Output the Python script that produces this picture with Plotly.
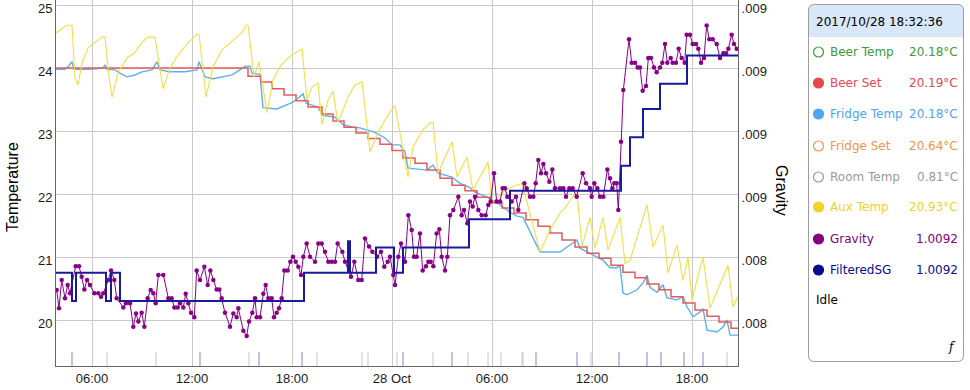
import plotly.graph_objects as go
import pandas as pd

# ---------------- data (hours since 2017-10-27 00:00) ----------------
beer_set_h = [3.84, 15.36, 16.14, 16.80, 17.52, 18.24, 18.96, 19.80, 20.46, 21.12, 21.84, 22.56, 23.28, 24.00,
              24.66, 25.38, 26.10, 26.88, 27.60, 28.38, 29.10, 29.88, 30.60, 31.32, 32.04, 32.76, 33.48, 34.20,
              34.98, 35.70, 36.42, 37.14, 37.86, 38.58, 39.30, 40.02, 40.74, 41.46, 42.18, 42.90, 43.62, 44.34, 44.76]
beer_set_t = [24.00, 23.87, 23.78, 23.67, 23.57, 23.48, 23.38, 23.27, 23.16, 23.06, 22.97, 22.88, 22.79, 22.69,
              22.57, 22.49, 22.38, 22.25, 22.14, 22.05, 21.95, 21.86, 21.78, 21.70, 21.59, 21.49, 21.38, 21.27,
              21.16, 21.06, 20.98, 20.87, 20.76, 20.67, 20.57, 20.48, 20.37, 20.27, 20.16, 20.06, 19.97, 19.87, 19.87]

fridge_h = [3.84, 4.38, 4.56, 4.80, 4.92, 5.88, 6.66, 6.78, 6.90, 7.38, 7.68, 8.10, 8.58, 9.00, 9.60, 9.90, 10.08,
            10.68, 11.58, 12.30, 12.42, 12.78, 13.26, 13.80, 14.40, 14.88, 15.18, 15.48, 15.60, 16.08, 16.26, 17.10,
            17.58, 18.06, 18.36, 18.66, 18.84, 19.26, 19.56, 19.86, 20.58, 21.06, 21.66, 22.08, 22.98, 23.58, 24.00,
            24.48, 24.78, 24.96, 26.10, 26.46, 26.76, 27.60, 28.08, 28.68, 28.98, 29.70, 30.48, 31.08, 31.50, 31.86,
            32.88, 34.08, 34.68, 35.10, 35.28, 35.88, 36.30, 36.66, 37.08, 37.50, 37.68, 37.86, 38.10, 38.70, 39.06,
            39.30, 39.48, 39.90, 40.26, 40.50, 41.10, 41.46, 41.70, 42.06, 42.60, 42.66, 42.90, 43.50, 43.86, 44.10,
            44.28, 44.76]
fridge_t = [23.98, 23.98, 24.02, 24.10, 23.98, 23.98, 24.00, 24.05, 23.98, 23.97, 23.92, 23.86, 23.89, 23.94, 23.97,
            24.10, 23.97, 23.94, 23.94, 23.97, 24.10, 23.86, 23.83, 23.86, 23.89, 23.97, 24.03, 24.03, 23.92, 23.90,
            23.37, 23.35, 23.40, 23.46, 23.52, 23.59, 23.44, 23.41, 23.38, 23.25, 23.22, 23.10, 23.06, 23.05, 22.98,
            22.89, 22.78, 22.78, 22.67, 22.41, 22.38, 22.46, 22.33, 22.27, 22.17, 22.10, 22.03, 21.95, 21.83, 21.71,
            21.65, 21.63, 21.08, 21.08, 21.19, 21.27, 21.14, 21.06, 21.00, 20.95, 20.83, 20.83, 20.87, 20.43, 20.40,
            20.48, 20.59, 20.71, 20.52, 20.44, 20.56, 20.35, 20.32, 20.37, 20.21, 20.05, 20.15, 20.18, 19.84, 19.81,
            19.89, 20.00, 19.76, 19.76]

aux_h = [3.84, 4.08, 4.26, 4.50, 4.80, 4.98, 5.16, 5.40, 5.76, 6.18, 6.60, 6.78, 7.02, 7.20, 7.56, 8.10, 8.58, 9.00,
         9.36, 9.78, 10.26, 10.68, 11.16, 11.76, 12.30, 12.42, 12.84, 13.26, 13.80, 14.46, 15.00, 15.24, 15.36, 15.72,
         16.02, 16.50, 16.86, 17.28, 17.76, 18.18, 18.60, 18.90, 19.20, 19.56, 19.80, 20.16, 20.46, 20.76, 21.36,
         21.78, 22.20, 22.68, 23.16, 23.58, 23.88, 24.18, 24.96, 25.26, 25.86, 26.28, 26.46, 26.76, 27.30, 27.60,
         27.90, 28.20, 28.50, 28.86, 29.28, 29.76, 30.00, 30.78, 31.38, 31.80, 32.88, 33.48, 34.08, 34.38, 34.80,
         35.10, 35.40, 35.88, 36.18, 36.66, 36.96, 37.68, 37.98, 38.28, 39.30, 39.66, 40.26, 40.56, 41.10, 41.46,
         41.76, 42.00, 42.66, 43.08, 44.16, 44.46, 44.76]
aux_t = [24.56, 24.60, 24.63, 24.68, 24.68, 23.84, 23.73, 24.08, 24.32, 24.40, 24.49, 24.49, 23.86, 23.54, 23.92,
         24.16, 24.25, 24.41, 24.49, 24.49, 23.67, 24.00, 24.21, 24.40, 24.54, 24.54, 23.54, 24.02, 24.29, 24.44,
         24.56, 24.68, 24.68, 23.86, 24.10, 23.29, 23.81, 24.02, 24.16, 24.24, 24.30, 23.49, 23.70, 23.76, 23.10,
         23.49, 23.63, 23.13, 23.54, 23.73, 23.78, 22.67, 22.98, 23.17, 23.30, 23.40, 22.27, 22.75, 23.02, 23.13,
         23.14, 22.33, 22.65, 22.83, 22.27, 22.43, 22.59, 22.06, 22.27, 22.51, 21.86, 22.06, 22.13, 22.17, 21.08,
         21.43, 21.70, 21.78, 21.94, 22.03, 21.16, 21.63, 21.14, 21.63, 21.11, 21.63, 20.90, 20.95, 21.83, 21.16,
         21.51, 20.75, 21.19, 20.63, 21.00, 20.32, 21.00, 20.19, 20.87, 20.21, 20.37]

grav_h = [3.88, 4.02, 4.18, 4.38, 4.54, 4.68, 5.02, 5.22, 5.38, 5.54, 5.70, 5.88, 6.14, 6.38, 6.54, 6.68, 6.98, 7.14,
          7.34, 7.48, 7.88, 8.04, 8.28, 8.48, 8.64, 8.78, 8.98, 9.14, 9.34, 9.52, 9.68, 9.82, 9.98, 10.28, 10.58,
          10.78, 10.94, 11.14, 11.28, 11.48, 11.62, 11.78, 11.94, 12.14, 12.28, 12.48, 12.74, 12.94, 13.10, 13.28,
          13.48, 13.64, 13.78, 13.98, 14.28, 14.48, 14.68, 14.78, 15.08, 15.28, 15.42, 15.62, 15.78, 15.88, 16.08,
          16.28, 16.42, 16.58, 16.78, 16.92, 17.08, 17.22, 17.38, 17.54, 17.74, 17.90, 18.06, 18.22, 18.38, 18.54,
          18.68, 18.88, 19.08, 19.38, 19.58, 19.78, 19.98, 20.18, 20.38, 20.58, 20.74, 21.02, 21.18, 21.54, 21.74,
          21.98, 22.18, 22.38, 22.62, 22.82, 23.10, 23.34, 23.54, 23.74, 23.88, 24.08,
          24.18, 24.38, 24.54, 24.78, 24.98, 25.18, 25.32, 25.48, 25.68, 25.84, 26.04, 26.18, 26.32, 26.48, 26.68,
          26.84, 26.98, 27.18, 27.32, 27.48, 27.68, 27.98, 28.18, 28.32, 28.52, 28.68, 28.84, 28.98, 29.18, 29.38,
          29.62, 29.78, 29.92, 30.12, 30.28, 30.48, 30.64, 30.78, 30.92, 31.18, 31.44, 31.58, 31.94, 32.08, 32.28,
          32.48, 32.62, 32.78, 32.94, 33.08, 33.24, 33.44, 33.62, 33.78, 34.08, 34.28, 34.44, 34.64, 34.84, 35.08,
          35.44, 35.64, 35.88, 35.98, 36.14, 36.32, 36.48, 36.68, 36.92, 37.08, 37.22, 37.34, 37.48, 37.58, 37.74,
          37.88, 38.22, 38.38, 38.58, 38.74, 38.88, 39.04, 39.24, 39.38, 39.54, 39.72, 39.88, 40.08, 40.22, 40.38,
          40.52, 40.72, 40.84, 41.04, 41.20, 41.38, 41.56, 41.68, 41.88, 42.04, 42.24, 42.38, 42.54, 42.72, 42.88,
          43.04, 43.24, 43.48, 43.68, 43.88, 44.04, 44.18, 44.38, 44.52, 44.68]
grav_sg = [1.008445, 1.008387, 1.008477, 1.008419, 1.008461, 1.008435, 1.008521, 1.008521, 1.008487, 1.008447,
           1.008477, 1.008461, 1.008435, 1.008435, 1.008424, 1.008435, 1.008477, 1.008507, 1.008477, 1.008419,
           1.008390, 1.008403, 1.008403, 1.008329, 1.008371, 1.008345, 1.008373, 1.008329, 1.008419, 1.008445,
           1.008435, 1.008403, 1.008493, 1.008493, 1.008419, 1.008419, 1.008390, 1.008390, 1.008403, 1.008390,
           1.008433, 1.008403, 1.008373, 1.008359, 1.008507, 1.008477, 1.008519, 1.008461, 1.008507, 1.008477,
           1.008447, 1.008447, 1.008419, 1.008373, 1.008329, 1.008371, 1.008359, 1.008387, 1.008316, 1.008299,
           1.008345, 1.008373, 1.008419, 1.008359, 1.008359, 1.008433, 1.008461, 1.008419, 1.008419, 1.008359,
           1.008373, 1.008387, 1.008419, 1.008507, 1.008507, 1.008535, 1.008551, 1.008535, 1.008519, 1.008493,
           1.008551, 1.008593, 1.008551, 1.008535, 1.008593, 1.008593, 1.008567, 1.008535, 1.008535, 1.008535,
           1.008593, 1.008567, 1.008535, 1.008487, 1.008535, 1.008477, 1.008477, 1.008609, 1.008583, 1.008567,
           1.008551, 1.008567, 1.008519, 1.008535, 1.008551, 1.008493,
           1.008461, 1.008551, 1.008593, 1.008535, 1.008683, 1.008636, 1.008551, 1.008551, 1.008625, 1.008507,
           1.008521, 1.008535, 1.008535, 1.008521, 1.008625, 1.008638, 1.008551, 1.008507, 1.008551, 1.008683,
           1.008699, 1.008741, 1.008683, 1.008699, 1.008657, 1.008726, 1.008710, 1.008741, 1.008699, 1.008683,
           1.008683, 1.008715, 1.008726, 1.008816, 1.008726, 1.008726, 1.008768, 1.008768, 1.008741, 1.008726,
           1.008741, 1.008699, 1.008784, 1.008768, 1.008741, 1.008741, 1.008784, 1.008858, 1.008816, 1.008845,
           1.008816, 1.008789, 1.008828, 1.008768, 1.008768, 1.008768, 1.008741, 1.008768, 1.008768, 1.008741,
           1.008816, 1.008784, 1.008768, 1.008741, 1.008784, 1.008768, 1.008741, 1.008741, 1.008828, 1.008800,
           1.008768, 1.008784, 1.008784, 1.008699, 1.008916,
           1.009080, 1.009241, 1.009167, 1.009167, 1.009152, 1.009152, 1.009078, 1.009093, 1.009182, 1.009182,
           1.009152, 1.009137, 1.009152, 1.009167, 1.009226, 1.009167, 1.009182, 1.009167, 1.009167, 1.009211,
           1.009182, 1.009167, 1.009256, 1.009256, 1.009226, 1.009226, 1.009211, 1.009167, 1.009182, 1.009285,
           1.009241, 1.009241, 1.009226, 1.009182, 1.009197, 1.009197, 1.009211, 1.009256, 1.009226, 1.009211]

fsg_h = [3.84, 4.80, 5.04, 6.84, 7.14, 7.68, 18.72, 21.36, 21.48, 23.04, 24.12, 24.66, 28.62, 31.08, 37.74,
         38.28, 39.06, 40.08, 41.70, 44.76]
fsg_sg = [1.00850, 1.00841, 1.00850, 1.00841, 1.00850, 1.00841, 1.00850, 1.00860, 1.00850, 1.00858, 1.00850,
          1.00858, 1.00867, 1.00876, 1.00884, 1.00893, 1.00902, 1.00910, 1.00919, 1.00919]

event_cool_h = [4.80, 12.48, 16.02, 18.60, 24.66, 27.60, 32.64, 35.10, 37.62, 39.30, 40.14, 41.52, 42.66]
event_idle_h = [6.90, 9.84, 15.42, 19.50, 22.20, 22.56, 24.30, 26.46, 28.56, 29.76, 30.54, 31.80, 31.86, 35.94, 44.10]

x_tick_h = [6, 12, 18, 24, 30, 36, 42]
x_tick_labels = ["06:00", "12:00", "18:00", "28 Oct", "06:00", "12:00", "18:00"]
temp_ticks = [20, 21, 22, 23, 24, 25]
grav_ticks = [1.00835, 1.00855, 1.00875, 1.00895, 1.00915, 1.00935]
grav_tick_labels = [".008", ".008", ".009", ".009", ".009", ".009"]
x_range_h = [3.84, 44.76]

legend_time = "2017/10/28 18:32:36"
legend_names = ["Beer Temp", "Beer Set", "Fridge Temp", "Fridge Set", "Room Temp", "Aux Temp", "Gravity", "FilteredSG"]
legend_values = ["20.18°C", "20.19°C", "20.18°C", "20.64°C", "0.81°C", "20.93°C", "1.0092", "1.0092"]
legend_colors = ["#3d9b3a", "#e04a4e", "#4ea6f0", "#f2944e", "#9a9a9a", "#f0d22a", "#800080", "#0a0a8e"]
legend_filled = [False, True, True, False, False, True, True, True]
legend_state = "Idle"

BASE = pd.Timestamp("2017-10-27 00:00")


def T(hours):
    return [BASE + pd.Timedelta(hours=h) for h in hours]


fig = go.Figure()
fig.add_trace(go.Scatter(x=T(fridge_h), y=fridge_t, mode="lines",
                         line=dict(color="#5eb0ec", width=1.4), hoverinfo="skip"))
fig.add_trace(go.Scatter(x=T(beer_set_h), y=beer_set_t, mode="lines", line_shape="hv",
                         line=dict(color="#e25c5c", width=1.5), hoverinfo="skip"))
fig.add_trace(go.Scatter(x=T(aux_h), y=aux_t, mode="lines",
                         line=dict(color="#f2de48", width=1.1), hoverinfo="skip"))
fig.add_trace(go.Scatter(x=T(grav_h), y=grav_sg, mode="lines+markers", yaxis="y2",
                         line=dict(color="#880088", width=1), marker=dict(size=4.5, color="#880088"),
                         hoverinfo="skip"))
fig.add_trace(go.Scatter(x=T(fsg_h), y=fsg_sg, mode="lines", line_shape="hv", yaxis="y2",
                         line=dict(color="#1a1a9c", width=2), hoverinfo="skip"))

PL, PR, PT, PB = 56, 738, 0, 366
W, H = 970, 390


def px(x):
    return (x - PL) / (PR - PL)


def py(y):
    return (PB - y) / (PB - PT)


shapes = []
for t in T(event_cool_h):
    shapes.append(dict(type="line", xref="x", yref="paper", x0=t, x1=t, y0=0, y1=14 / 366,
                       line=dict(color="#8585cc", width=1)))
for t in T(event_idle_h):
    shapes.append(dict(type="line", xref="x", yref="paper", x0=t, x1=t, y0=0, y1=14 / 366,
                       line=dict(color="#c6c6c6", width=1)))


def rpath(x0, y0, x1, y1, r, square_bottom=False):
    pts = []
    pts.append("M %f,%f" % (px(x0 + r), py(y0)))
    pts.append("L %f,%f" % (px(x1 - r), py(y0)))
    pts.append("Q %f,%f %f,%f" % (px(x1), py(y0), px(x1), py(y0 + r)))
    if square_bottom:
        pts.append("L %f,%f" % (px(x1), py(y1)))
        pts.append("L %f,%f" % (px(x0), py(y1)))
    else:
        pts.append("L %f,%f" % (px(x1), py(y1 - r)))
        pts.append("Q %f,%f %f,%f" % (px(x1), py(y1), px(x1 - r), py(y1)))
        pts.append("L %f,%f" % (px(x0 + r), py(y1)))
        pts.append("Q %f,%f %f,%f" % (px(x0), py(y1), px(x0), py(y1 - r)))
    pts.append("L %f,%f" % (px(x0), py(y0 + r)))
    pts.append("Q %f,%f %f,%f" % (px(x0), py(y0), px(x0 + r), py(y0)))
    pts.append("Z")
    return " ".join(pts)


BX0, BY0, BX1, BY1 = 808.5, 4.5, 963.5, 361.5
shapes.append(dict(type="path", xref="paper", yref="paper", path=rpath(BX0, BY0, BX1, BY1, 6),
                   fillcolor="white", line=dict(width=0)))
shapes.append(dict(type="path", xref="paper", yref="paper", path=rpath(BX0, BY0, BX1, 37, 6, True),
                   fillcolor="#d8e7fa", line=dict(width=0)))
shapes.append(dict(type="path", xref="paper", yref="paper", path=rpath(BX0, BY0, BX1, BY1, 6),
                   fillcolor="rgba(0,0,0,0)", line=dict(color="#9c9c9c", width=1)))

annotations = []
LF = "DejaVu Sans"
annotations.append(dict(xref="paper", yref="paper", x=px(814), y=py(22), text=legend_time, showarrow=False,
                        xanchor="left", yanchor="middle", font=dict(family=LF, size=12, color="#000")))
row_y = [52, 83, 114, 146, 177, 207, 239, 270]
for name, val, col, filled, yy in zip(legend_names, legend_values, legend_colors, legend_filled, row_y):
    shapes.append(dict(type="circle", xref="paper", yref="paper", x0=px(813.5), x1=px(823.5),
                       y0=py(yy + 5), y1=py(yy - 5), fillcolor=col if filled else "white",
                       line=dict(color=col, width=1.2)))
    annotations.append(dict(xref="paper", yref="paper", x=px(828), y=py(yy), text=name, showarrow=False,
                            xanchor="left", yanchor="middle", font=dict(family=LF, size=12, color=col)))
    annotations.append(dict(xref="paper", yref="paper", x=px(960), y=py(yy), text=val, showarrow=False,
                            xanchor="right", yanchor="middle", font=dict(family=LF, size=12, color=col)))
annotations.append(dict(xref="paper", yref="paper", x=px(814), y=py(300), text=legend_state, showarrow=False,
                        xanchor="left", yanchor="middle", font=dict(family=LF, size=12, color="#000")))
annotations.append(dict(xref="paper", yref="paper", x=px(958), y=py(347), text="<i>f</i>", showarrow=False,
                        xanchor="right", yanchor="middle", font=dict(family="DejaVu Serif", size=12, color="#000")))
annotations.append(dict(xref="paper", yref="paper", x=px(12), y=py(187), text="Temperature", showarrow=False,
                        textangle=-90, xanchor="center", yanchor="middle",
                        font=dict(family="Liberation Sans", size=16, color="#000")))
annotations.append(dict(xref="paper", yref="paper", x=px(782), y=py(190), text="Gravity", showarrow=False,
                        textangle=90, xanchor="center", yanchor="middle",
                        font=dict(family="Liberation Sans", size=16, color="#000")))

tickfont = dict(family="Liberation Sans", size=13, color="#1a1a1a")
fig.update_layout(
    width=W, height=H, autosize=False,
    margin=dict(l=PL, r=W - PR, t=PT, b=H - PB, pad=0, autoexpand=False),
    paper_bgcolor="white", plot_bgcolor="white",
    showlegend=False,
    xaxis=dict(type="date", range=T(x_range_h), tickmode="array", tickvals=T(x_tick_h), ticktext=x_tick_labels,
               showgrid=True, gridcolor="#c9c9c9", gridwidth=1, showline=True, linecolor="#666", linewidth=1,
               ticks="", tickfont=tickfont, zeroline=False, ticklabeloverflow="allow", automargin=False),
    yaxis=dict(range=[19.27, 25.08], tickmode="array", tickvals=temp_ticks, showgrid=True, gridcolor="#c9c9c9",
               gridwidth=1, showline=True, linecolor="#666", linewidth=1, ticks="", tickfont=tickfont,
               zeroline=False, ticklabeloverflow="allow", ticklabelshift=3, automargin=False),
    yaxis2=dict(overlaying="y", side="right", range=[1.008204, 1.009366], tickmode="array", tickvals=grav_ticks,
                ticktext=grav_tick_labels, showgrid=False, showline=True, linecolor="#666", linewidth=1,
                ticks="", tickfont=tickfont, zeroline=False, ticklabeloverflow="allow", ticklabelshift=3,
                automargin=False),
    shapes=shapes,
    annotations=annotations,
)

fig.write_html("out.html", config={"staticPlot": True},
               post_script="document.body.style.margin='0';document.body.style.overflow='hidden';")
